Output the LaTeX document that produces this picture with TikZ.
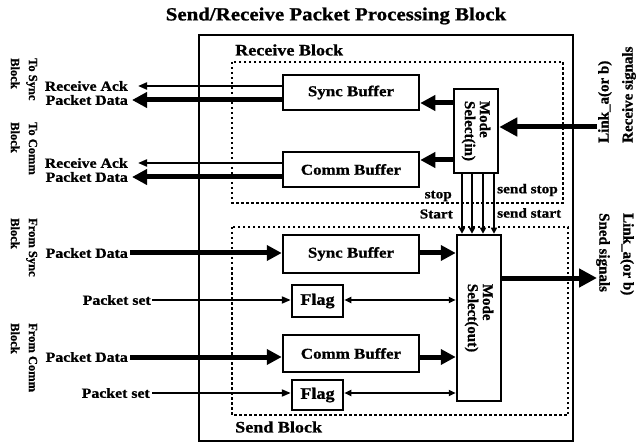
\documentclass[tikz,border=0pt]{standalone}
\usepackage{fontspec}
\setmainfont[BoldFeatures={FakeBold=1}]{Liberation Serif}
\newfontfamily\hf[FakeStretch=1.13, BoldFeatures={FakeBold=1}]{Liberation Serif}
\usetikzlibrary{arrows.meta}
\begin{document}
\begin{tikzpicture}[x=1pt,y=-1pt,
  box/.style={draw, line width=2.5pt, fill=white, inner sep=0pt, font=\hf\bfseries\fontsize{15}{15}\selectfont},
  thk/.style={line width=5pt, -{Triangle[length=15pt,width=15pt]}},
  bighead/.style={line width=5pt, -{Triangle[length=18pt,width=18pt]}},
  thn/.style={line width=2pt, -{Triangle[length=9pt,width=7pt]}},
  bi/.style={line width=2pt, {Triangle[length=7pt,width=6pt]}-{Triangle[length=7pt,width=6pt]}},
  vln/.style={line width=2pt, -{Triangle[length=6pt,width=6pt]}},
  dotbox/.style={line width=2pt, dash pattern=on 2.5pt off 2.5pt},
  lbl/.style={font=\hf\bfseries\fontsize{14}{14}\selectfont, inner sep=0pt},
  sml/.style={font=\hf\bfseries\fontsize{13.5}{13.5}\selectfont, inner sep=0pt},
  blk/.style={font=\hf\bfseries\fontsize{16}{16}\selectfont, inner sep=0pt, anchor=west},
  rotl/.style={font=\bfseries\fontsize{12.5}{18}\selectfont, rotate=-90, align=left, inner sep=0pt, anchor=west},
  rotr/.style={font=\bfseries\fontsize{15}{24}\selectfont, align=left, inner sep=0pt, anchor=west},
  modetxt/.style={font=\bfseries\fontsize{15}{15}\selectfont, rotate=-90, align=left, inner sep=0pt}
]
\useasboundingbox (0,0) rectangle (642,446);

% title and frames
\node[font=\hf\bfseries\fontsize{18.5}{18.5}\selectfont, inner sep=0pt] (title) at (336,16) {Send/Receive Packet Processing Block};
\draw[line width=2.5pt] (199,35) rectangle (573,441);
\node[blk] (rbl) at (235,50) {Receive Block};
\draw[dotbox] (232,62) rectangle (563,203);
\draw[dotbox] (232,227) rectangle (568,415);
\node[blk] (sbl) at (235,427) {Send Block};

% receive boxes
\node[box, minimum width=136pt, minimum height=35pt] (rsync) at (351,92.5) {Sync Buffer};
\node[box, minimum width=136pt, minimum height=35pt] (rcomm) at (351,169.5) {Comm Buffer};
\node[box, minimum width=44pt, minimum height=84pt] (msin) at (476,131) {};
\node[modetxt] (msinlbl) at (msin) {Mode\\Select(in)};

% send boxes
\node[box, minimum width=136pt, minimum height=38pt] (ssync) at (351,254) {Sync Buffer};
\node[box, minimum width=51pt, minimum height=32pt, font=\hf\bfseries\fontsize{16}{16}\selectfont] (flag1) at (317.5,301) {Flag};
\node[box, minimum width=136pt, minimum height=37pt] (scomm) at (351,353.5) {Comm Buffer};
\node[box, minimum width=51pt, minimum height=30pt, font=\hf\bfseries\fontsize{16}{16}\selectfont] (flag2) at (317.5,395) {Flag};
\node[box, minimum width=44pt, minimum height=166pt] (msout) at (479,318) {};
\node[modetxt] (msoutlbl) at (msout) {Mode\\Select(out)};

% receive connectors
\draw[thk] (msin.west |- 0,103) -- (rsync.east |- 0,103);
\draw[thk] (msin.west |- 0,160) -- (rcomm.east |- 0,160);
\coordinate (linkin) at (597,127);
\draw[bighead] (linkin) -- (msin.east |- linkin);

\node[lbl, anchor=east] (ack1) at (128,86) {Receive Ack};
\node[lbl, anchor=east] (pd1) at (128,100) {Packet Data};
\draw[thn] (rsync.west |- ack1.east) -- ([xshift=10pt]ack1.east);
\draw[thk] (rsync.west |- pd1.east) -- ([xshift=4pt]pd1.east);
\node[lbl, anchor=east] (ack2) at (128,163) {Receive Ack};
\node[lbl, anchor=east] (pd2) at (128,177) {Packet Data};
\draw[thn] (rcomm.west |- ack2.east) -- ([xshift=10pt]ack2.east);
\draw[thk] (rcomm.west |- pd2.east) -- ([xshift=4pt]pd2.east);

% send connectors
\node[lbl, anchor=east] (pd3) at (128,253) {Packet Data};
\draw[thk] ([xshift=2pt]pd3.east) -- (ssync.west |- pd3.east);
\node[lbl, anchor=east] (ps1) at (151,300) {Packet set};
\draw[thn] ([xshift=1pt]ps1.east) -- (flag1.west |- ps1.east);
\node[lbl, anchor=east] (pd4) at (128,357) {Packet Data};
\draw[thk] ([xshift=2pt]pd4.east) -- (scomm.west |- pd4.east);
\node[lbl, anchor=east] (ps2) at (150,393) {Packet set};
\draw[thn] ([xshift=2pt]ps2.east) -- (flag2.west |- ps2.east);

\draw[thk] (ssync.east |- 0,253) -- (msout.west |- 0,253);
\draw[bi] (flag1.east |- 0,300) -- (msout.west |- 0,300);
\draw[thk] (scomm.east |- 0,357) -- (msout.west |- 0,357);
\draw[bi] (flag2.east |- 0,393) -- (msout.west |- 0,393);
\coordinate (linkout) at (597,278);
\draw[bighead] (msout.east |- linkout) -- (linkout);

% control lines between mode selects
\foreach \xx in {462,472,483,494} {
  \draw[vln] (\xx,0 |- msin.south) -- (\xx,0 |- msout.north);
}
\node[sml, anchor=east] (stop) at (452,196) {stop};
\node[sml, anchor=east] (start) at (453,214) {Start};
\node[sml, anchor=west] (sstop) at (497,190) {send stop};
\node[sml, anchor=west] (sstart) at (497,213) {send start};

% side labels
\node[rotl] (tosync) at (24,58) {To Sync\\Block};
\node[rotl] (tocomm) at (24,122) {To Comm\\Block};
\node[rotl] (fromsync) at (24,218) {From Sync\\Block};
\node[rotl] (fromcomm) at (24,323) {From Comm\\Block};
\node[rotr, rotate=90] (linkrx) at (617,143) {Link\_a(or b)\\Receive signals};
\node[rotr, rotate=-90] (linktx) at (615,213) {Link\_a(or b)\\Sned signals};
\end{tikzpicture}
\end{document}
